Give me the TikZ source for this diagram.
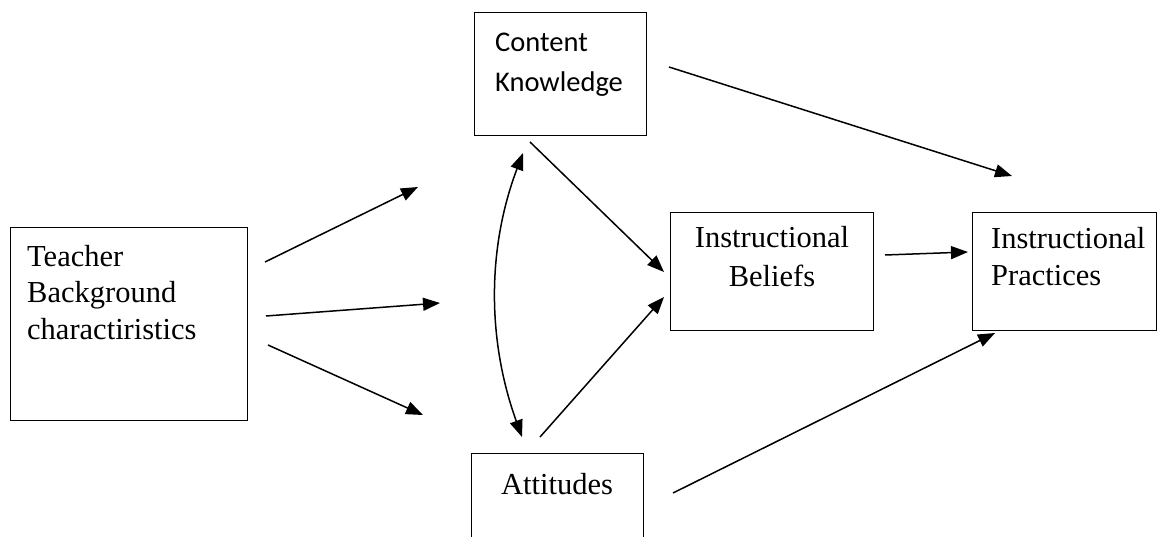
\documentclass[tikz,border=0pt]{standalone}
\usepackage{fontspec}
\setmainfont{Liberation Serif}
\newfontfamily\calibri{Carlito}
\usetikzlibrary{arrows.meta}
\begin{document}
\begin{tikzpicture}[x=1pt,y=-1pt,
  box/.style={draw, line width=1.2pt, inner sep=0pt, anchor=north west},
  lbl/.style={font=\fontsize{30.5}{36}\selectfont, inner sep=0pt, anchor=base west},
  clbl/.style={font=\fontsize{30.5}{36}\selectfont, inner sep=0pt, anchor=base},
  sanslbl/.style={font=\calibri\fontsize{28.5}{36}\selectfont, inner sep=0pt, anchor=base west},
  arr/.style={line width=1.5pt, -{Triangle[length=17pt,width=13pt]}},
  darr/.style={line width=1.5pt, {Triangle[length=17pt,width=13pt]}-{Triangle[length=17pt,width=13pt]}}]
\useasboundingbox (0,0) rectangle (1162,537);
\clip (0,0) rectangle (1162,537);
\fill[white] (0,0) rectangle (1162,537);
% boxes
\node[box, minimum width=237pt, minimum height=193pt] (tb) at (10,227) {};
\node[box, minimum width=172pt, minimum height=123pt] (ck) at (474,12) {};
\node[box, minimum width=203pt, minimum height=118pt] (ib) at (670,212) {};
\node[box, minimum width=184pt, minimum height=118pt] (ip) at (972,212) {};
\node[box, minimum width=172pt, minimum height=110pt] (at) at (471,453) {};
% texts
\node[lbl] (tb1) at (27,267) {Teacher};
\node[lbl] (tb2) at (27,303) {Background};
\node[lbl] (tb3) at (27,339) {charactiristics};
\node[sanslbl] (ck1) at (495,52) {Content};
\node[sanslbl] (ck2) at (495,92) {Knowledge};
\node[clbl] (ib1) at (772,248) {Instructional};
\node[clbl] (ib2) at (772,287) {Beliefs};
\node[lbl] (ip1) at (991,249) {Instructional};
\node[lbl] (ip2) at (991,286) {Practices};
\node[clbl] (at1) at (557,494) {Attitudes};
% connector end points
\coordinate (a1s) at (265,262); \coordinate (a1e) at (418,187);
\coordinate (a2s) at (266,316); \coordinate (a2e) at (440,303);
\coordinate (a3s) at (268,345); \coordinate (a3e) at (423,415);
\coordinate (cvt) at (523,153); \coordinate (cvb) at (522,437);
\coordinate (cbs) at (530,142); \coordinate (cbe) at (664,272);
\coordinate (abs) at (540,437); \coordinate (abe) at (664,297);
\coordinate (bps) at (885,255); \coordinate (bpe) at (968,252);
\coordinate (cps) at (669,67);  \coordinate (cpe) at (1012,176);
\coordinate (aps) at (673,493); \coordinate (ape) at (995,333);
% connectors
\draw[arr] (a1s) -- (a1e);
\draw[arr] (a2s) -- (a2e);
\draw[arr] (a3s) -- (a3e);
\draw[darr] (cvb) .. controls (487,340) and (487,248) .. (cvt);
\draw[arr] (cbs) -- (cbe);
\draw[arr] (abs) -- (abe);
\draw[arr] (bps) -- (bpe);
\draw[arr] (cps) -- (cpe);
\draw[arr] (aps) -- (ape);
\end{tikzpicture}
\end{document}
